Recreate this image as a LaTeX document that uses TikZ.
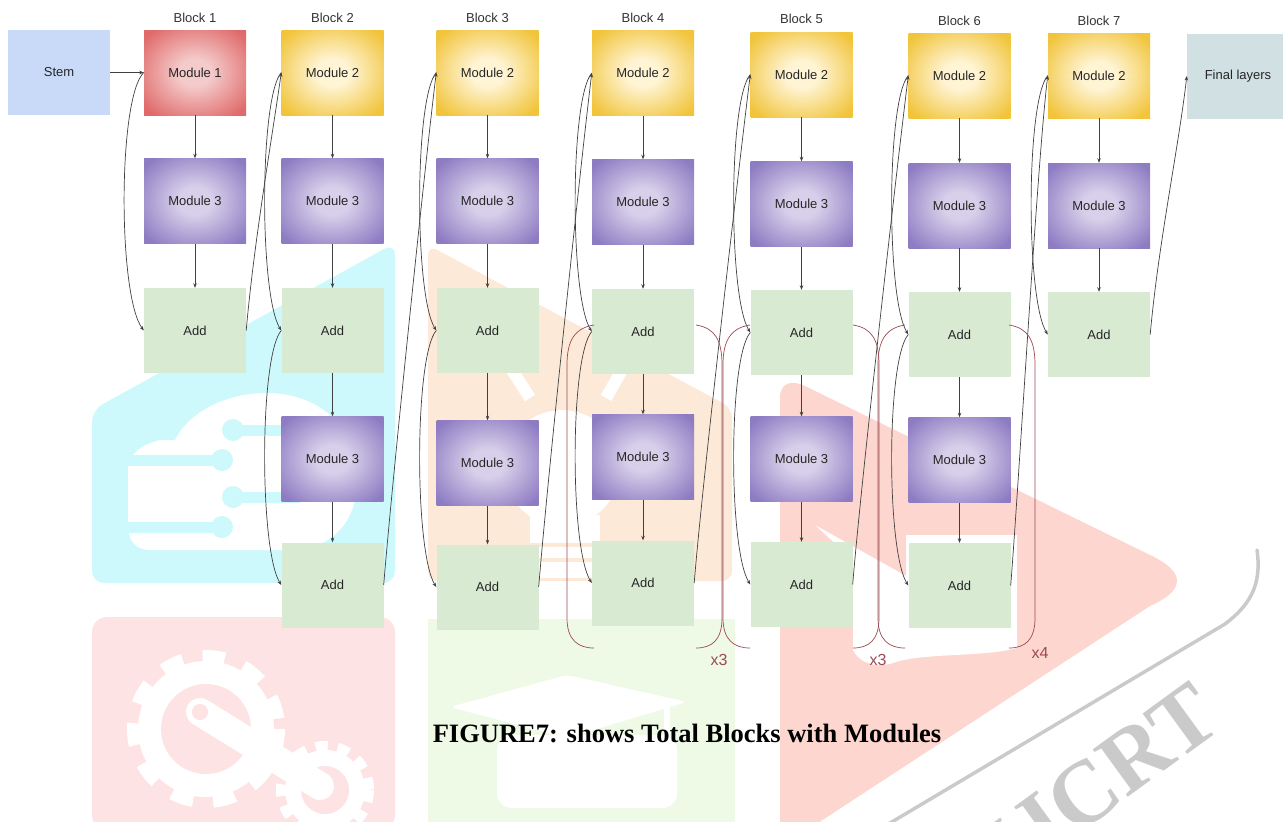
\documentclass[tikz,border=0pt]{standalone}
\usepackage{fontspec}
\setmainfont{Liberation Serif}
\setsansfont{Liberation Sans}
\usetikzlibrary{arrows.meta}
\definecolor{stemc}{HTML}{C9DAF8}
\definecolor{finalc}{HTML}{D0E0E3}
\definecolor{addc}{HTML}{D9EAD3}
\definecolor{redO}{HTML}{E06A6A}
\definecolor{redI}{HTML}{F4CACA}
\definecolor{yelO}{HTML}{F1C43A}
\definecolor{yelI}{HTML}{FFF4D4}
\definecolor{purO}{HTML}{8E7CC3}
\definecolor{purI}{HTML}{D8D0EA}
\definecolor{brkc}{HTML}{9C4A52}
\definecolor{wmcyan}{HTML}{CDF9FC}
\definecolor{wmorange}{HTML}{FDE9D8}
\definecolor{wmgreen}{HTML}{EEFAE6}
\definecolor{wmpink}{HTML}{FDE3E3}
\definecolor{wmred}{HTML}{FDD6D0}
\definecolor{wmgray}{HTML}{CACACA}
\pgfdeclareradialshading{redshade}{\pgfpoint{0bp}{0bp}}{color(0bp)=(redI); color(8bp)=(redI); color(32bp)=(redO); color(50bp)=(redO)}
\pgfdeclareradialshading{yelshade}{\pgfpoint{0bp}{0bp}}{color(0bp)=(yelI); color(8bp)=(yelI); color(32bp)=(yelO); color(50bp)=(yelO)}
\pgfdeclareradialshading{purshade}{\pgfpoint{0bp}{0bp}}{color(0bp)=(purI); color(8bp)=(purI); color(32bp)=(purO); color(50bp)=(purO)}
\begin{document}
\begin{tikzpicture}[x=1pt,y=-1pt,
  box/.style={minimum width=102pt,minimum height=85pt,inner sep=0pt,
    font=\sffamily\fontsize{13}{15}\selectfont,text=black!85},
  stemb/.style={box,fill=stemc},
  finalb/.style={box,fill=finalc},
  addb/.style={box,fill=addc},
  mone/.style={box,shading=redshade},
  mtwo/.style={box,shading=yelshade},
  mthree/.style={box,shading=purshade},
  blab/.style={font=\sffamily\fontsize{13}{15}\selectfont,text=black!80},
  conn/.style={draw=black!75,line width=0.7pt,-{Stealth[length=4.5pt,width=3.5pt]}},
  brk/.style={draw=brkc,line width=0.7pt},
  rep/.style={font=\sffamily\fontsize{16}{18}\selectfont,text=brkc}]
\useasboundingbox (0,0) rectangle (1283,822);
% ---------- watermark background ----------
\fill[wmcyan,rounded corners=12] (92,583) -- (92,410) -- (395,243) -- (395,583) -- cycle;
\fill[white] (128,470) .. controls (128,455) and (140,445) .. (160,440) -- (175,440)
  .. controls (190,410) and (230,392) .. (270,393) .. controls (330,395) and (360,440) .. (358,480)
  .. controls (356,520) and (335,545) .. (300,550) -- (150,550) .. controls (135,550) and (128,540) .. (128,525) -- cycle;
\draw[wmcyan,line width=11] (233,430) -- (300,430) (233,497) -- (300,497) (126,460) -- (222,460) (126,527) -- (222,527);
\foreach \p in {(233,430),(233,497),(222,460),(222,527)} \fill[wmcyan] \p circle (11);
\fill[wmorange,rounded corners=10] (428,581) -- (428,245) -- (732,408) -- (732,581) -- cycle;
\fill[white] (562,468) circle (58);
\fill[white] (530,515) rectangle (600,578);
\draw[wmorange,line width=4] (530,545) -- (600,545) (530,560) -- (600,560);
\draw[white,line width=12] (512,370) -- (530,398) (622,370) -- (606,398);
\fill[wmgreen] (428,619) rectangle (735,822);
\fill[white,rounded corners=6] (450,707) -- (567,675) -- (687,702) -- (567,738) -- cycle;
\fill[white,rounded corners=15] (497,735) rectangle (677,808);
\draw[white,line width=6] (667,705) -- (667,790);
\fill[wmpink,rounded corners=15] (92,830) -- (92,617) -- (395,617) -- (395,830) -- cycle;
\fill[white] (206,729) circle (68);
\draw[white,line width=14,dash pattern=on 22pt off 20pt] (206,729) circle (72);
\fill[wmpink] (206,729) circle (45);
\fill[white] (325,790) circle (40);
\draw[white,line width=10,dash pattern=on 12pt off 10pt] (325,790) circle (44);
\fill[wmpink] (325,790) circle (24);
\draw[white,line width=28,line cap=round] (200,712) -- (320,786);
\fill[wmpink] (200,712) circle (8);
\fill[wmred] (780,900) -- (780,398) .. controls (780,382) and (792,380) .. (805,386) -- (1150,555)
  .. controls (1186,572) and (1186,590) .. (1150,606) -- (700,900) -- cycle;
\fill[white] (815,525) -- (906,576) -- (906,535) -- (1017,535) -- (1017,648)
  .. controls (980,658) and (920,652) .. (890,664) .. controls (870,668) and (858,660) .. (853,650) -- (853,560) -- cycle;
\draw[wmgray,line width=3.5,line cap=round] (1257,550) .. controls (1262,585) and (1250,605) .. (1225,624) -- (880,829);
\node[text=wmgray,rotate=36,font=\rmfamily\bfseries\fontsize{90}{90}\selectfont] (wm) at (1100,782) {IJCRT};
% ---------- block labels ----------
\node[blab] (l1) at (195,18) {Block 1};
\node[blab] (l2) at (332.5,18) {Block 2};
\node[blab] (l3) at (487.5,18) {Block 3};
\node[blab] (l4) at (643,18) {Block 4};
\node[blab] (l5) at (801.5,19) {Block 5};
\node[blab] (l6) at (959.5,21) {Block 6};
\node[blab] (l7) at (1099,21) {Block 7};
% ---------- nodes ----------
\node[stemb] (stem) at (59,72.5) {Stem};
\node[mone] (b1m1) at (195,72.5) {Module 1};
\node[mthree] (b1m3) at (195,201) {Module 3};
\node[addb] (b1a) at (195,330.5) {Add};
\node[mtwo] (b2m2) at (332.5,72.5) {Module 2};
\node[mthree] (b2m3) at (332.5,201) {Module 3};
\node[addb] (b2a) at (332.5,330.5) {Add};
\node[mthree] (b2m3b) at (332.5,459) {Module 3};
\node[addb] (b2ab) at (332.5,585) {Add};
\node[mtwo] (b3m2) at (487.5,72.5) {Module 2};
\node[mthree] (b3m3) at (487.5,201) {Module 3};
\node[addb] (b3a) at (487.5,330.5) {Add};
\node[mthree] (b3m3b) at (487.5,463) {Module 3};
\node[addb] (b3ab) at (487.5,587) {Add};
\node[mtwo] (b4m2) at (643,73) {Module 2};
\node[mthree] (b4m3) at (643,202) {Module 3};
\node[addb] (b4a) at (643,331.5) {Add};
\node[mthree] (b4m3b) at (643,457) {Module 3};
\node[addb] (b4ab) at (643,583) {Add};
\node[mtwo] (b5m2) at (801.5,74.5) {Module 2};
\node[mthree] (b5m3) at (801.5,204) {Module 3};
\node[addb] (b5a) at (801.5,332.5) {Add};
\node[mthree] (b5m3b) at (801.5,459) {Module 3};
\node[addb] (b5ab) at (801.5,584.5) {Add};
\node[mtwo] (b6m2) at (959.5,75.5) {Module 2};
\node[mthree] (b6m3) at (959.5,205.5) {Module 3};
\node[addb] (b6a) at (959.5,334.5) {Add};
\node[mthree] (b6m3b) at (959.5,460) {Module 3};
\node[addb] (b6ab) at (959.5,585.5) {Add};
\node[mtwo] (b7m2) at (1099,75.5) {Module 2};
\node[mthree] (b7m3) at (1099,205.5) {Module 3};
\node[addb] (b7a) at (1099,334.5) {Add};
\node[finalb] (final) at (1238,76) {Final layers};
% ---------- vertical arrows ----------
\draw[conn] (stem) -- (b1m1);
\draw[conn] (b1m1) -- (b1m3);
\draw[conn] (b1m3) -- (b1a);
\foreach \k in {2,...,7} {
  \draw[conn] (b\k m2) -- (b\k m3);
  \draw[conn] (b\k m3) -- (b\k a);
}
\foreach \k in {2,...,6} {
  \draw[conn] (b\k a) -- (b\k m3b);
  \draw[conn] (b\k m3b) -- (b\k ab);
}
% ---------- skip connections ----------
\draw[conn] (b1m1.west) .. controls +(-26,25) and +(-26,-35) .. (b1a.west);
\foreach \k in {2,...,7}
  \draw[conn] (b\k m2.west) .. controls +(-22,25) and +(-22,-35) .. (b\k a.west);
\foreach \k in {2,...,6}
  \draw[conn] (b\k a.west) .. controls +(-22,25) and +(-22,-35) .. (b\k ab.west);
% ---------- inputs to next block ----------
\draw[conn] (b1a.east) .. controls +(8,-90) and +(-10,70) .. (b2m2.west);
\draw[conn] (b2ab.east) .. controls +(8,-100) and +(-10,80) .. (b3m2.west);
\draw[conn] (b3ab.east) .. controls +(8,-100) and +(-10,80) .. (b4m2.west);
\draw[conn] (b4ab.east) .. controls +(8,-100) and +(-10,80) .. (b5m2.west);
\draw[conn] (b5ab.east) .. controls +(8,-100) and +(-10,80) .. (b6m2.west);
\draw[conn] (b6ab.east) .. controls +(8,-100) and +(-10,80) .. (b7m2.west);
\draw[conn] (b7a.east) .. controls +(8,-90) and +(-8,70) .. (final.west);
% ---------- repeat brackets ----------
\foreach \l/\r in {594/696,750/853,905/1009} {
  \draw[brk] (\l,325) .. controls (\l-19,328) and (\l-27,340) .. (\l-27,365) -- (\l-27,618)
     .. controls (\l-27,640) and (\l-16,648) .. (\l,648);
  \draw[brk] (\r,325) .. controls (\r+19,328) and (\r+26,340) .. (\r+26,365) -- (\r+26,618)
     .. controls (\r+26,640) and (\r+16,648) .. (\r,648);
}
\node[rep] (r4) at (719,660) {x3};
\node[rep] (r5) at (878,660) {x3};
\node[rep] (r6) at (1040,653) {x4};
% ---------- caption ----------
\node[font=\rmfamily\bfseries\fontsize{26.5}{30}\selectfont] (cap) at (687,733) {FIGURE7: shows Total Blocks with Modules};
\end{tikzpicture}
\end{document}
